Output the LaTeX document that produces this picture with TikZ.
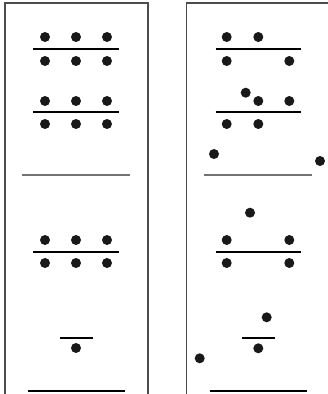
\documentclass[tikz,border=0pt]{standalone}
\begin{document}
\begin{tikzpicture}[x=1pt,y=-1pt,
  frame/.style={draw=black!70,line width=1.1pt},
  bar/.style={draw=black,line width=2pt},
  gline/.style={draw=black!55,line width=1.5pt},
  bline/.style={draw=black,line width=1.5pt},
  dot/.style={circle,fill=black!90,inner sep=0pt,minimum size=10pt}]
\useasboundingbox (0,0) rectangle (328,394);
% frames
\draw[frame] (5,394) -- (5,3) -- (148,3) -- (148,394);
\draw[frame] (186.7,394) -- (186.7,3) -- (328,3);
% left panel
\foreach \y in {37,101,240}{
  \foreach \x in {45,76,107} \node[dot] at (\x,\y) {};
}
\foreach \y in {61,124,263}{
  \foreach \x in {45,76,107} \node[dot] at (\x,\y) {};
}
\foreach \y in {49,112,252} \draw[bar] (33,\y) -- (119,\y);
\draw[gline] (22,175) -- (130,175);
\draw[bar] (60,338) -- (93,338);
\node[dot] at (76,348) {};
\draw[bline] (28,391) -- (125,391);
% right panel
\node[dot] at (226.7,37) {};
\node[dot] at (258.3,37) {};
\draw[bar] (215.7,49) -- (300.7,49);
\node[dot] at (226.7,61) {};
\node[dot] at (289.3,61) {};
\node[dot] at (245.7,92.7) {};
\node[dot] at (258.3,101) {};
\node[dot] at (289.3,101) {};
\draw[bar] (215.7,112) -- (300.7,112);
\node[dot] at (226.7,124) {};
\node[dot] at (258.3,124) {};
\node[dot] at (214,154) {};
\node[dot] at (320,161) {};
\draw[gline] (204,175) -- (312,175);
\node[dot] at (250,212.7) {};
\node[dot] at (226.7,240) {};
\node[dot] at (289.3,240) {};
\draw[bar] (215.7,252) -- (300.7,252);
\node[dot] at (226.7,263) {};
\node[dot] at (289.3,263) {};
\node[dot] at (266.7,317.3) {};
\draw[bar] (242.3,338) -- (274.7,338);
\node[dot] at (258.3,348.3) {};
\node[dot] at (199.7,358.3) {};
\draw[bline] (209.7,391) -- (307.3,391);
\end{tikzpicture}
\end{document}
